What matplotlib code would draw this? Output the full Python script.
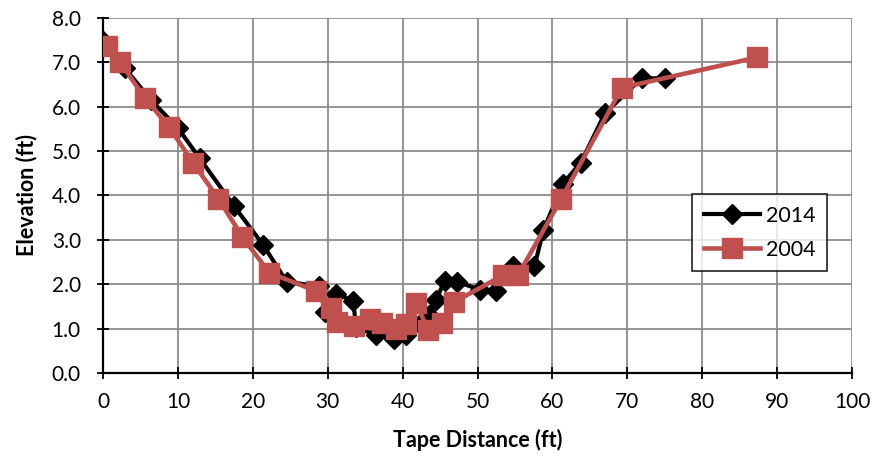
import matplotlib
matplotlib.use("Agg")
import matplotlib.pyplot as plt
from matplotlib.ticker import FormatStrFormatter

plt.rcParams["font.family"] = ["Lato", "DejaVu Sans"]

# 2014 survey (black diamonds)
dist_2014 = [0.0, 2.9, 6.4, 10.0, 12.9, 17.5, 21.4, 24.5, 28.8, 29.7, 31.1, 33.4, 33.8,
             36.5, 38.9, 40.5, 42.3, 43.5, 44.5, 45.6, 47.2, 50.3, 52.5, 54.7, 57.6,
             58.8, 61.4, 63.8, 67.0, 71.9, 75.0]
elev_2014 = [7.48, 6.87, 6.15, 5.52, 4.84, 3.76, 2.88, 2.06, 1.95, 1.38, 1.79, 1.62, 1.03,
             0.85, 0.77, 0.85, 1.10, 1.30, 1.65, 2.08, 2.06, 1.88, 1.85, 2.40, 2.40,
             3.22, 4.27, 4.74, 5.85, 6.64, 6.64]

# 2004 survey (red squares)
dist_2004 = [0.5, 2.3, 5.6, 8.8, 12.0, 15.4, 18.6, 22.2, 28.4, 30.4, 31.2, 33.5, 35.6,
             37.2, 39.1, 40.5, 41.8, 43.4, 45.2, 46.9, 53.4, 55.4, 61.2, 69.3, 87.3]
elev_2004 = [7.38, 7.00, 6.19, 5.55, 4.74, 3.93, 3.07, 2.26, 1.85, 1.47, 1.16, 1.07, 1.22,
             1.12, 1.00, 1.10, 1.58, 0.97, 1.12, 1.60, 2.20, 2.20, 3.93, 6.43, 7.11]

RED = "#C0504D"

fig = plt.figure(figsize=(8.76, 4.66), dpi=100)
ax = fig.add_axes([0.1176, 0.1996, 0.855, 0.7618])

ax.plot(dist_2014, elev_2014, color="black", lw=3.0, marker="D", ms=10,
        label="2014", zorder=3)
ax.plot(dist_2004, elev_2004, color=RED, lw=3.3, marker="s", ms=14,
        label="2004", zorder=4)

ax.set_xlim(0, 100)
ax.set_ylim(0, 8)
ax.set_xticks(range(0, 101, 10))
ax.set_yticks(range(0, 9))
ax.yaxis.set_major_formatter(FormatStrFormatter("%.1f"))
ax.grid(color="#8c8c8c", lw=1.3)
ax.set_axisbelow(True)
for side in ("top", "right"):
    ax.spines[side].set_visible(False)
for side in ("left", "bottom"):
    ax.spines[side].set_linewidth(1.6)
ax.tick_params(direction="inout", length=8, width=1.3, labelsize=15)
ax.tick_params(axis="x", pad=10)
ax.tick_params(axis="y", pad=12)

ax.set_xlabel("Tape Distance (ft)", fontsize=15.5, fontweight="bold", labelpad=12)
ax.set_ylabel("Elevation (ft)", fontsize=15.5, fontweight="bold", labelpad=10)

leg = ax.legend(loc="upper left", bbox_to_anchor=(0.786, 0.505), fontsize=15.5,
                frameon=True, fancybox=False, borderpad=0.55, handlelength=2.6,
                labelspacing=0.65, handletextpad=0.3, borderaxespad=0)
leg.get_frame().set_edgecolor("black")
leg.get_frame().set_linewidth(1.3)

fig.savefig("out.png", dpi=100)
